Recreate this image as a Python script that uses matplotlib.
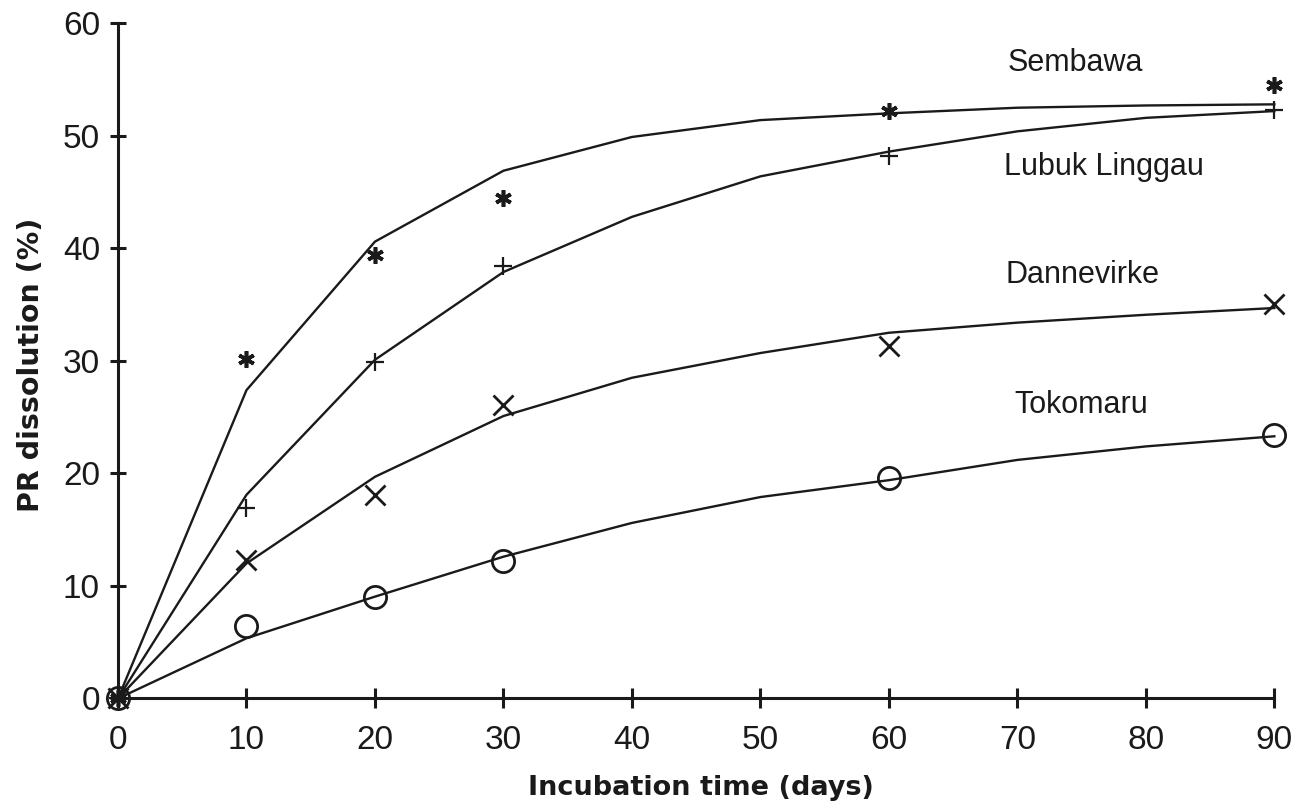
import matplotlib
matplotlib.use("Agg")
import matplotlib.pyplot as plt

# Incubation times (days)
days_obs = [0, 10, 20, 30, 60, 90]
days_fit = [0, 10, 20, 30, 40, 50, 60, 70, 80, 90]

# Measured PR dissolution (%)
sembawa_obs = [0, 30.2, 39.4, 44.5, 52.2, 54.5]
lubuk_obs = [0, 16.9, 29.9, 38.4, 48.2, 52.3]
dannevirke_obs = [0, 12.3, 18.1, 26.1, 31.3, 35.1]
tokomaru_obs = [0, 6.4, 9.05, 12.2, 19.6, 23.4]

# Fitted dissolution curves (%)
sembawa_fit = [0, 27.4, 40.6, 46.9, 49.9, 51.4, 52.0, 52.5, 52.7, 52.8]
lubuk_fit = [0, 18.1, 30.1, 37.9, 42.8, 46.4, 48.6, 50.4, 51.6, 52.2]
dannevirke_fit = [0, 12.0, 19.7, 25.1, 28.5, 30.7, 32.5, 33.4, 34.1, 34.7]
tokomaru_fit = [0, 5.35, 9.05, 12.6, 15.6, 17.9, 19.4, 21.2, 22.4, 23.3]

soil_names = ["Sembawa", "Lubuk Linggau", "Dannevirke", "Tokomaru"]
label_x = [74.5, 76.7, 75.1, 75.0]
label_y = [56.5, 47.2, 37.6, 26.1]

x_ticks = [0, 10, 20, 30, 40, 50, 60, 70, 80, 90]
y_ticks = [0, 10, 20, 30, 40, 50, 60]

ink = "#1a1a1a"
tick_font = "Liberation Sans"

fig = plt.figure(figsize=(13.01, 8.10), dpi=100)
ax = fig.add_axes([0.0907, 0.1377, 0.8888, 0.8335])

series = [
    (sembawa_fit, sembawa_obs, dict(marker=(6, 2, 0), ms=12, mew=2.6)),
    (lubuk_fit, lubuk_obs, dict(marker="+", ms=13, mew=1.6)),
    (dannevirke_fit, dannevirke_obs, dict(marker="x", ms=14, mew=2.0)),
    (tokomaru_fit, tokomaru_obs, dict(marker="o", ms=16, mew=2.0, mfc="none")),
]

for fit, obs, mk in series:
    ax.plot(days_fit, fit, color=ink, lw=1.7, clip_on=False, zorder=3)
    ax.plot(days_obs, obs, ls="none", color=ink, mec=ink, clip_on=False,
            zorder=4, **mk)

for name, lx, ly in zip(soil_names, label_x, label_y):
    ax.text(lx, ly, name, ha="center", va="center", fontsize=22,
            family=tick_font, color=ink)

ax.set_xlim(0, 90)
ax.set_ylim(0, 60)
ax.set_xticks(x_ticks)
ax.set_yticks(y_ticks)

for side in ("top", "right"):
    ax.spines[side].set_visible(False)
for side in ("left", "bottom"):
    ax.spines[side].set_linewidth(2.2)
    ax.spines[side].set_color(ink)

ax.tick_params(axis="both", direction="inout", width=2.2, color=ink,
               labelcolor=ink, labelsize=24)
ax.tick_params(axis="y", length=12, pad=7)
ax.tick_params(axis="x", length=14, pad=12)
for lab in ax.get_xticklabels() + ax.get_yticklabels():
    lab.set_family(tick_font)

fig.text(0.539, 0.027, "Incubation time (days)", ha="center", va="center",
         fontsize=19.5, family="DejaVu Sans", weight="bold", color=ink)
fig.text(0.024, 0.55, "PR dissolution (%)", ha="center", va="center",
         rotation=90, fontsize=20.5, family="DejaVu Sans", weight="bold",
         color=ink)

fig.savefig("out.png", dpi=100, facecolor="white")
